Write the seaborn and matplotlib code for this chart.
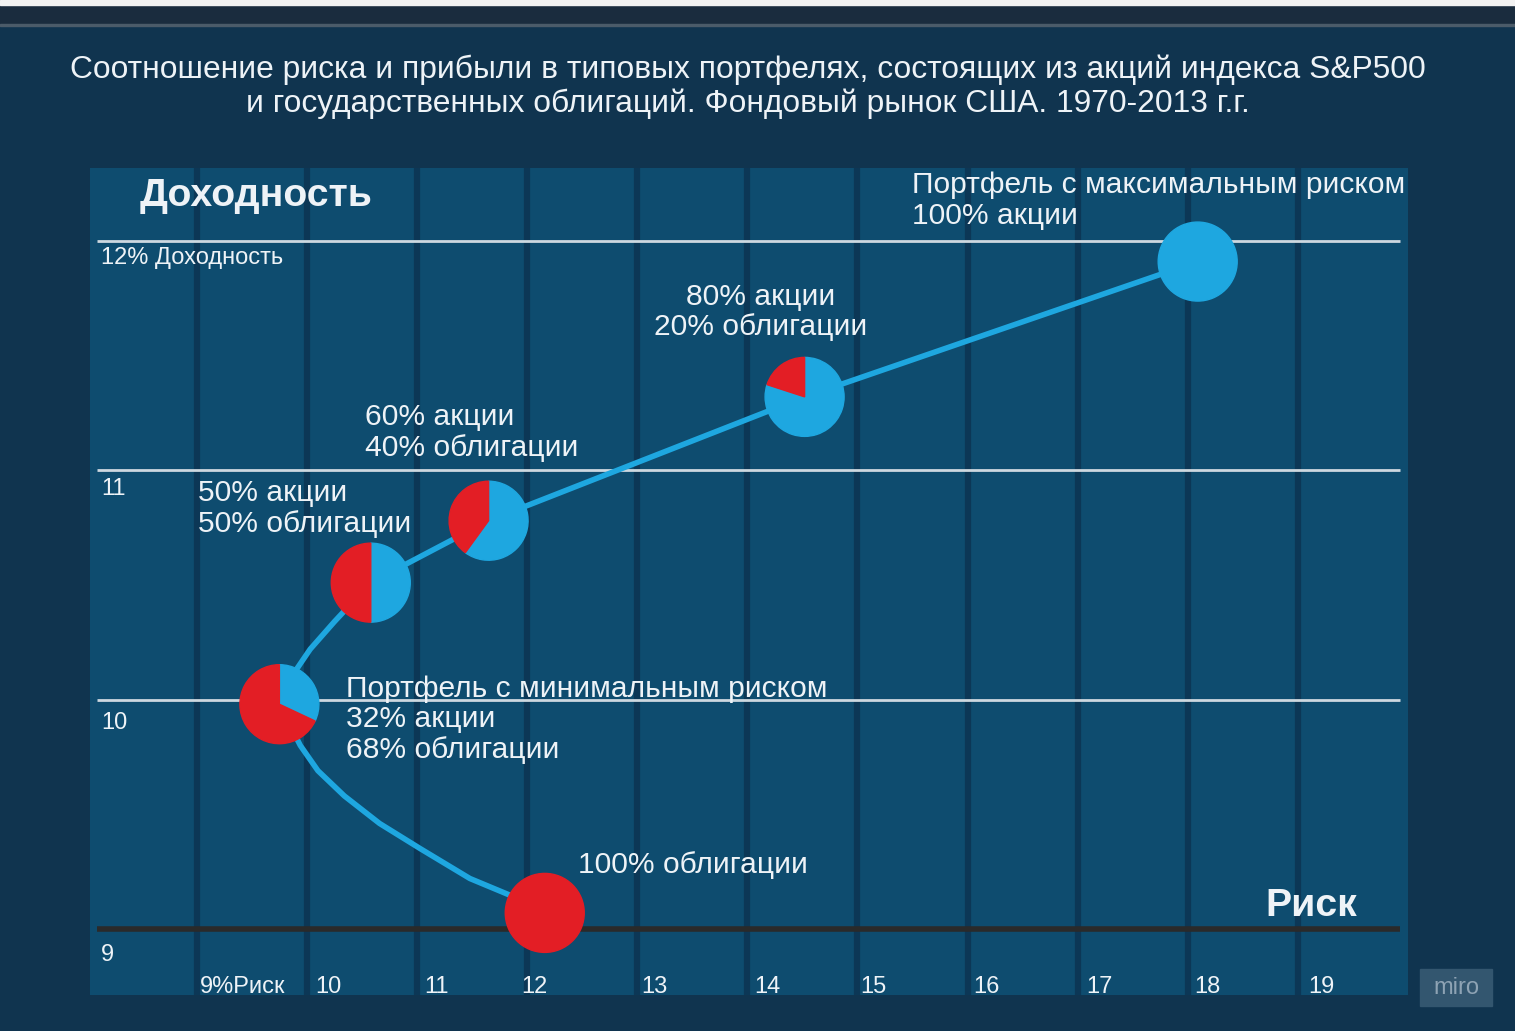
import numpy as np
import pandas as pd
import seaborn as sns
import matplotlib.pyplot as plt
import matplotlib.transforms as mtransforms
from matplotlib.patches import Wedge, Rectangle

# frontier: risk (%) vs return (%), from 100% bonds to 100% stocks
frontier_risk = [12.16, 11.93, 11.48, 11.03, 10.66, 10.34, 10.10, 9.94, 9.75, 9.86, 10.03, 10.25, 10.58, 11.65, 14.52, 18.09]
frontier_ret = [9.07, 9.13, 9.22, 9.35, 9.46, 9.58, 9.69, 9.80, 9.98, 10.10, 10.22, 10.34, 10.51, 10.78, 11.32, 11.91]

# the six portfolios drawn as pies
port_risk = [12.16, 9.75, 10.58, 11.65, 14.52, 18.09]
port_ret = [9.07, 9.98, 10.51, 10.78, 11.32, 11.91]
port_stocks = [0, 32, 50, 60, 80, 100]
port_labels = [
    "100% облигации",
    "Портфель с минимальным риском\n32% акции\n68% облигации",
    "50% акции\n50% облигации",
    "60% акции\n40% облигации",
    "80% акции\n20% облигации",
    "Портфель с максимальным риском\n100% акции",
]

risk_ticks = [9, 10, 11, 12, 13, 14, 15, 16, 17, 18, 19]
risk_ticklabels = ["9%Риск", "10", "11", "12", "13", "14", "15", "16", "17", "18", "19"]
ret_ticks = [9, 10, 11, 12]
ret_ticklabels = ["9", "10", "11", "12% Доходность"]

title = ("Соотношение риска и прибыли в типовых портфелях, состоящих из акций индекса S&P500\n"
         "и государственных облигаций. Фондовый рынок США. 1970-2013 г.г.")

# colours
BG = "#10344f"
COL = "#0e4c6f"
GAP = "#0c3756"
BLUE = "#1ea7e0"
RED = "#e31e25"
TXT = "#eef3f7"

sns.set_theme(style="white")
plt.rcParams["font.family"] = ["Liberation Sans", "DejaVu Sans"]

fig = plt.figure(figsize=(15.15, 10.31), dpi=100, facecolor=BG)
W, H = 1515, 1031
ax = fig.add_axes([90 / W, (H - 995) / H, (1408 - 90) / W, (995 - 168) / H])
ax.set_facecolor(COL)
for s in ax.spines.values():
    s.set_visible(False)
ax.set_xlim(8.03, 20.0)
ax.set_ylim(8.712, 12.318)
ax.set_xticks([])
ax.set_yticks([])

# column gaps
ax.vlines(risk_ticks, 8.712, 12.318, color=GAP, lw=4.5, zorder=1)

# horizontal return levels
ax.hlines(ret_ticks[1:], 8.09, 19.93, color="#cdd8e0", lw=2, zorder=2)
ax.hlines(ret_ticks[0], 8.09, 19.93, color="#2a2a2a", lw=4, zorder=2)

# frontier curve
sns.lineplot(x=frontier_risk, y=frontier_ret, sort=False, estimator=None,
             color=BLUE, lw=4, ax=ax, zorder=3)

# pies
for x, y, st in zip(port_risk, port_ret, port_stocks):
    tr = fig.dpi_scale_trans + mtransforms.ScaledTranslation(x, y, ax.transData)
    if st > 0:
        ax.add_artist(Wedge((0, 0), 0.395, 90 - 3.6 * st, 90, transform=tr, color=BLUE, zorder=4))
    if st < 100:
        ax.add_artist(Wedge((0, 0), 0.395, 90, 90 + 3.6 * (100 - st), transform=tr, color=RED, zorder=4))

# portfolio labels, offsets in pixels from pie centre
label_offsets = [(33, 48), (67, -15), (-173, 74), (-124, 88), (-44, 85), (-286, 61)]
label_ha = ["left", "left", "left", "left", "center", "left"]
for x, y, lab, off, ha in zip(port_risk, port_ret, port_labels, label_offsets, label_ha):
    ax.annotate(lab, (x, y), xytext=off, textcoords="offset pixels", ha=ha, va="center",
                fontsize=21.6, color=TXT, zorder=5, linespacing=1.12,
                multialignment="center" if ha == "center" else "left")

# tick labels drawn inside the plot
tick_dx = [3, 8, 7, -6, 4, 7, 3, 6, 9, 6, 10]
for t, lab, dx in zip(risk_ticks, risk_ticklabels, tick_dx):
    ax.annotate(lab, (t, 8.712), xytext=(dx, 2), textcoords="offset pixels", ha="left", va="baseline",
                fontsize=17, color=TXT)
ret_dy = [-26, -23, -19, -17]
for t, lab, dy in zip(ret_ticks, ret_ticklabels, ret_dy):
    ax.annotate(lab, (8.03, t), xytext=(11, dy), textcoords="offset pixels", ha="left", va="center",
                fontsize=17, color=TXT)

ax.text(50 / 1318, 0.966, "Доходность", transform=ax.transAxes, fontsize=28.3,
        fontweight="bold", color=TXT, ha="left", va="center")
ax.text(1175 / 1318, 0.108, "Риск", transform=ax.transAxes, fontsize=28.3,
        fontweight="bold", color=TXT, ha="left", va="center")

fig.text(748 / W, 1 - 87 / H, title, ha="center", va="center", fontsize=22.9, color=TXT, linespacing=1.14)

# top strip and watermark
fig.patches.append(Rectangle((0, 1 - 24 / H), 1, 19 / H, transform=fig.transFigure, color="#1a2c3e", zorder=0))
fig.patches.append(Rectangle((0, 1 - 5 / H), 1, 5 / H, transform=fig.transFigure, color="#f2f2f2", zorder=0))
fig.patches.append(Rectangle((0, 1 - 26 / H), 1, 2 / H, transform=fig.transFigure, color="#4b5b69", zorder=0))
fig.patches.append(Rectangle((1420 / W, (H - 1006) / H), 72 / W, 37 / H, transform=fig.transFigure,
                             color="#33566f", zorder=0))
fig.text(1456 / W, 1 - 988 / H, "miro", ha="center", va="center", fontsize=17, color="#8ea3b4")

fig.savefig("out.png", dpi=100, facecolor=BG)
